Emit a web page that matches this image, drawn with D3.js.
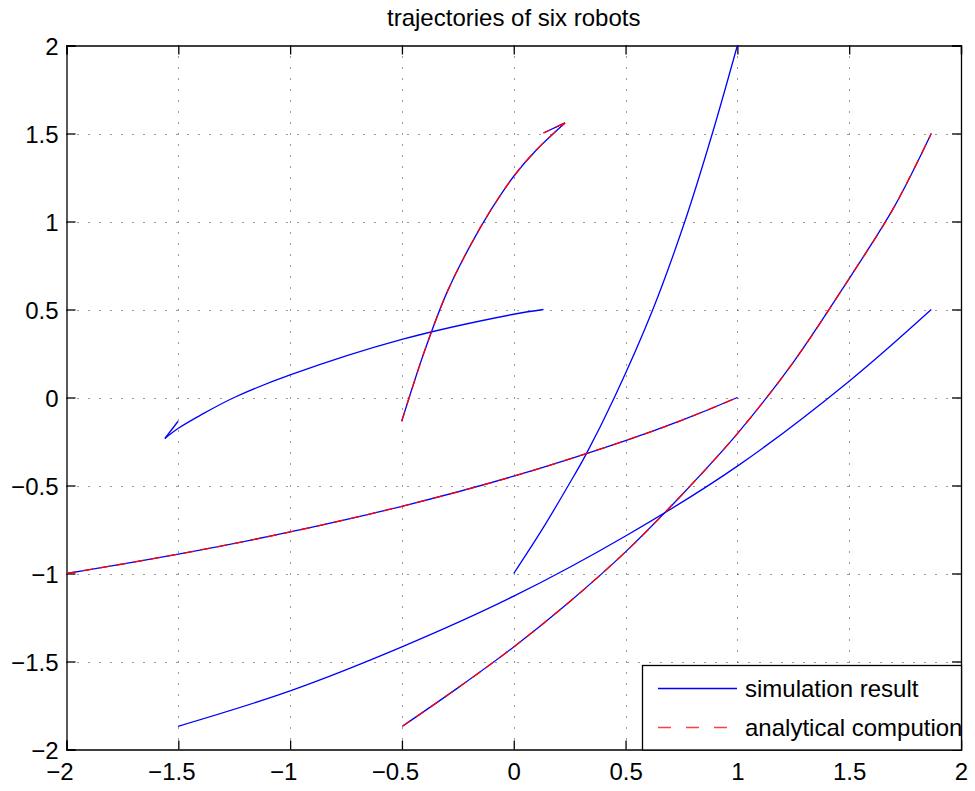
<!DOCTYPE html>
<html><head><meta charset="utf-8">
<script src="https://cdn.jsdelivr.net/npm/d3@7"></script>
<style>body{margin:0;background:#fff}text{font-family:"Liberation Sans",Arial,Helvetica,sans-serif}</style>
</head><body>
<svg id="chart" width="975" height="791"></svg>
<script>
const titleText = "trajectories of six robots";
const xTicks = [-2, -1.5, -1, -0.5, 0, 0.5, 1, 1.5, 2];
const yTicks = [-2, -1.5, -1, -0.5, 0, 0.5, 1, 1.5, 2];
const legendLabels = ["simulation result", "analytical compution"];

// robot trajectories (simulation result)
const robotA = [[0.133,0.5],[0,0.473],[-0.5,0.33],[-1,0.128],[-1.25,0],[-1.4,-0.1],[-1.5,-0.175],[-1.56,-0.233]];
const robotABarb = [[-1.56,-0.233],[-1.501,-0.135]];
const robotB = [[-0.501,-0.135],[-0.4,0.26],[-0.3,0.593],[-0.2,0.85],[-0.1,1.07],[0,1.257],[0.1,1.405],[0.229,1.56]];
const robotBBarb = [[0.229,1.56],[0.133,1.503]];
const robotC = [[0,-1],[0.125,-0.754],[0.244,-0.5],[0.322,-0.326],[0.45,0],[0.622,0.5],[0.765,1],[0.888,1.5],[1.0,2.0]];
const robotD = [[-2,-1],[-1.5,-0.89],[-1,-0.764],[-0.5,-0.618],[0,-0.447],[0.5,-0.245],[0.75,-0.13],[1,0]];
const robotE = [[-0.498,-1.868],[-0.25,-1.65],[0,-1.417],[0.25,-1.16],[0.5,-0.877],[0.75,-0.555],[1,-0.205],[1.25,0.2],[1.5,0.676],[1.7,1.08],[1.867,1.5]];
const robotF = [[-1.501,-1.868],[-1,-1.667],[-0.5,-1.417],[0,-1.129],[0.5,-0.787],[1,-0.39],[1.5,0.093],[1.867,0.5]];

// analytical computation (overlaid on robots B, D, E)
const analyticB = robotB;
const analyticBBarb = robotBBarb;
const analyticD = robotD;
const analyticE = robotE;

const simCurves = [robotA, robotB, robotC, robotD, robotE, robotF];
const simBarbs = [robotABarb, robotBBarb];
const anaCurves = [analyticB, analyticD, analyticE];
const anaBarbs = [analyticBBarb];

const L = 66.5, R = 961, T = 45.5, B = 749.5;
const svg = d3.select("#chart");
const x = d3.scaleLinear().domain([-2, 2]).range([L, R]);
const y = d3.scaleLinear().domain([-2, 2]).range([B, T]);
const FS = 24;

svg.append("rect").attr("width", 975).attr("height", 791).attr("fill", "#fff");

svg.append("defs").append("clipPath").attr("id", "plotclip")
  .append("rect").attr("x", L).attr("y", T).attr("width", R - L).attr("height", B - T);

// grid
const grid = svg.append("g").attr("stroke", "#333").attr("stroke-width", 1).attr("stroke-dasharray", "1,10");
grid.selectAll(".gx").data(xTicks.slice(1, -1)).join("line")
  .attr("x1", d => Math.round(x(d)) + 0.5).attr("x2", d => Math.round(x(d)) + 0.5).attr("y1", T).attr("y2", B);
grid.selectAll(".gy").data(yTicks.slice(1, -1)).join("line")
  .attr("y1", d => Math.round(y(d)) + 0.5).attr("y2", d => Math.round(y(d)) + 0.5).attr("x1", L).attr("x2", R);

// axes with inside ticks
const fmt = d => (d < 0 ? "\u2212" : "") + String(Math.abs(d));
const axB = svg.append("g").attr("transform", `translate(0,${B})`)
  .call(d3.axisBottom(x).tickValues(xTicks).tickSize(-9).tickPadding(13).tickFormat(fmt));
const axT = svg.append("g").attr("transform", `translate(0,${T})`)
  .call(d3.axisTop(x).tickValues(xTicks).tickSize(-9).tickFormat(""));
const axL = svg.append("g").attr("transform", `translate(${L},0)`)
  .call(d3.axisLeft(y).tickValues(yTicks).tickSize(-9).tickPadding(8).tickFormat(fmt));
const axRt = svg.append("g").attr("transform", `translate(${R},0)`)
  .call(d3.axisRight(y).tickValues(yTicks).tickSize(-9).tickFormat(""));
[axB, axT, axL, axRt].forEach(a => {
  a.select(".domain").attr("stroke", "#000").attr("stroke-width", 1.3);
  a.selectAll(".tick line").attr("stroke", "#000").attr("stroke-width", 1.3);
  a.selectAll("text").attr("font-size", FS).attr("fill", "#000").attr("font-family", '"Liberation Sans",Arial,sans-serif');
});
// shift negative x labels so the number (without minus) is centred on the tick
const meas = svg.append("text").attr("font-size", FS).attr("x", -100).attr("y", -100).text("\u2212");
const minusW = meas.node().getComputedTextLength();
meas.remove();
axB.selectAll(".tick text").attr("dy", "0.71em").attr("dx", d => d < 0 ? -minusW / 2 : 0);
axL.selectAll(".tick text").attr("dy", "0.36em");

// curves
const line = d3.line().x(d => x(d[0])).y(d => y(d[1])).curve(d3.curveCatmullRom.alpha(0.5));
const seg = d3.line().x(d => x(d[0])).y(d => y(d[1]));
const plot = svg.append("g").attr("clip-path", "url(#plotclip)").attr("fill", "none");
plot.selectAll(".sim").data(simCurves).join("path").attr("d", line)
  .attr("stroke", "#0000ff").attr("stroke-width", 1.3);
plot.selectAll(".simb").data(simBarbs).join("path").attr("d", seg)
  .attr("stroke", "#0000ff").attr("stroke-width", 1.3);
plot.selectAll(".ana").data(anaCurves).join("path").attr("d", line)
  .attr("stroke", "#ff0000").attr("stroke-width", 1.3).attr("stroke-dasharray", "10,7");
plot.selectAll(".anab").data(anaBarbs).join("path").attr("d", seg)
  .attr("stroke", "#ff0000").attr("stroke-width", 1.3).attr("stroke-dasharray", "10,7");

// title
svg.append("text").attr("x", (L + R) / 2).attr("y", 26).attr("text-anchor", "middle")
  .attr("font-size", FS).attr("fill", "#000").text(titleText);

// legend
const lx = 642, ly = 665, lw = R - lx, lh = B - ly;
svg.append("defs").append("clipPath").attr("id", "legclip")
  .append("rect").attr("x", lx).attr("y", ly).attr("width", lw).attr("height", lh);
const leg = svg.append("g");
leg.append("rect").attr("x", lx + 0.5).attr("y", ly + 0.5).attr("width", lw).attr("height", lh)
  .attr("fill", "#fff").attr("stroke", "#000").attr("stroke-width", 1.3);
const legG = leg.append("g").attr("clip-path", "url(#legclip)");
const rows = [{c: "#0000ff", dash: null, yy: 688.5}, {c: "#ff4040", dash: "13,15", yy: 727.5}];
rows.forEach((r, i) => {
  legG.append("line").attr("x1", 658).attr("x2", 737).attr("y1", r.yy).attr("y2", r.yy)
    .attr("stroke", r.c).attr("stroke-width", 1.3).attr("stroke-dasharray", r.dash);
  legG.append("text").attr("x", 745).attr("y", r.yy).attr("dy", "0.36em")
    .attr("font-size", FS).attr("fill", "#000").text(legendLabels[i]);
});
</script>
</body></html>
